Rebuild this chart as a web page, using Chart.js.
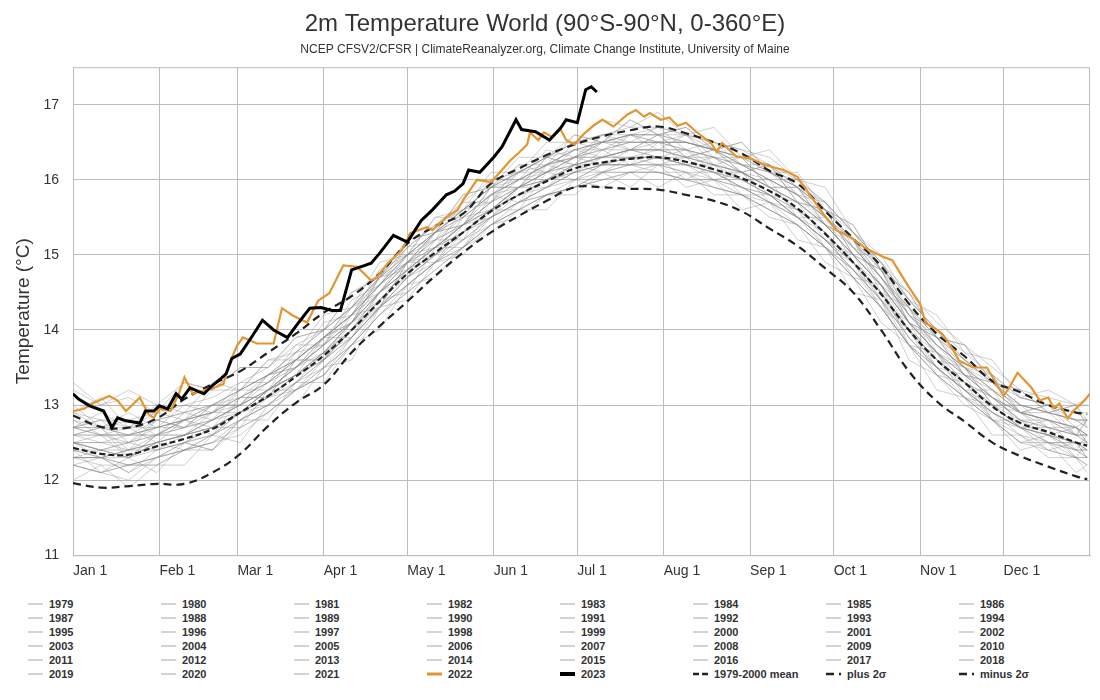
<!DOCTYPE html>
<html>
<head>
<meta charset="utf-8">
<script src="https://cdn.jsdelivr.net/npm/chart.js@4.4.1/dist/chart.umd.min.js"></script>
<style>
body{margin:0;background:#fff;font-family:"Liberation Sans",Arial,sans-serif;}
#wrap{position:relative;width:1100px;height:700px;}
#chartBox{position:absolute;left:0;top:0;width:1100px;height:592px;}
#legend{position:absolute;left:28px;top:597px;display:grid;grid-template-columns:repeat(8,133px);grid-auto-rows:14px;}
.item{display:flex;align-items:center;font:bold 11px "Liberation Sans",Arial,sans-serif;color:#333;white-space:nowrap;}
.item svg{margin-right:6px;}
</style>
</head>
<body>
<div id="wrap">
<div id="chartBox"><canvas id="tempChart"></canvas></div>
<div id="legend"></div>
</div>
<script>

const monthDays=[0,31,59,90,120,151,181,212,243,273,304,334]
const monthLabels=["Jan 1","Feb 1","Mar 1","Apr 1","May 1","Jun 1","Jul 1","Aug 1","Sep 1","Oct 1","Nov 1","Dec 1"]
const yTicks=[11,12,13,14,15,16,17]

// 10-day grid used by the 1979-2021 years and the climatology lines
const gridDays=[0,10,20,30,40,50,60,70,80,90,100,110,120,130,140,150,160,170,180,190,200,210,220,230,240,250,260,270,280,290,300,310,320,330,340,350,360,364]

const meanTemps=[12.43,12.35,12.34,12.45,12.55,12.68,12.90,13.12,13.38,13.66,14.00,14.38,14.75,15.03,15.30,15.58,15.80,15.98,16.15,16.23,16.28,16.30,16.24,16.14,16.02,15.85,15.62,15.28,14.90,14.48,14.00,13.60,13.30,12.98,12.76,12.64,12.50,12.46]
const plusTemps=[12.86,12.71,12.70,12.82,13.08,13.28,13.45,13.70,13.95,14.23,14.45,14.75,15.15,15.38,15.55,15.95,16.15,16.33,16.47,16.58,16.66,16.71,16.62,16.50,16.35,16.12,15.95,15.58,15.22,14.85,14.35,13.95,13.65,13.32,13.17,13.00,12.90,12.88]
const minusTemps=[11.96,11.90,11.92,11.95,11.95,12.10,12.35,12.72,13.03,13.27,13.70,14.05,14.38,14.72,15.03,15.30,15.52,15.72,15.90,15.90,15.88,15.87,15.80,15.72,15.58,15.35,15.12,14.82,14.50,14.00,13.45,13.05,12.78,12.50,12.32,12.18,12.05,12.01]

const t1979=[12.3,12.3,12.1,12.3,12.5,12.4,12.8,13.1,13.2,13.4,13.9,14.3,14.6,14.9,15.1,15.5,15.7,15.8,15.9,16.1,16.2,16.1,16.0,16.0,15.9,15.7,15.4,15.1,14.8,14.3,13.8,13.5,13.2,12.8,12.5,12.6,12.3,12.3]
const t1980=[12.5,12.3,12.3,12.5,12.4,12.6,12.9,13.0,13.3,13.7,13.9,14.3,14.7,15.0,15.3,15.5,15.8,15.9,16.1,16.2,16.2,16.3,16.2,16.1,15.9,15.8,15.5,15.2,14.9,14.4,14.0,13.5,13.2,13.0,12.7,12.5,12.5,12.4]
const t1981=[12.3,12.3,12.1,12.4,12.5,12.7,12.7,13.2,13.2,13.6,13.9,14.4,14.5,15.1,15.1,15.6,15.6,16.1,16.0,16.2,16.2,16.3,16.0,16.2,15.8,15.8,15.5,15.3,14.7,14.6,13.8,13.7,13.1,13.0,12.7,12.7,12.3,12.5]
const t1982=[12.2,12.1,12.2,12.2,12.4,12.5,12.6,12.9,13.2,13.4,13.8,14.2,14.5,14.8,15.1,15.4,15.6,15.8,15.9,16.0,16.1,16.1,16.0,15.9,15.8,15.6,15.4,15.1,14.7,14.3,13.8,13.4,13.1,12.8,12.6,12.4,12.3,12.2]
const t1983=[12.8,12.6,12.7,12.5,12.8,12.7,13.1,13.1,13.6,13.6,14.1,14.3,14.9,14.9,15.4,15.5,15.9,15.9,16.2,16.1,16.3,16.2,16.3,16.0,16.1,15.7,15.6,15.1,14.9,14.3,14.0,13.4,13.3,12.8,12.7,12.4,12.5,12.3]
const t1984=[12.2,12.1,12.0,12.3,12.4,12.5,12.7,12.9,13.2,13.4,13.8,14.2,14.6,14.9,15.1,15.4,15.6,15.8,15.9,16.1,16.1,16.1,16.0,15.9,15.8,15.6,15.4,15.1,14.7,14.3,13.8,13.4,13.1,12.8,12.5,12.5,12.3,12.2]
const t1985=[12.0,12.2,11.9,12.2,12.2,12.6,12.5,13.0,13.0,13.5,13.6,14.3,14.4,14.9,15.0,15.4,15.5,15.8,15.8,16.1,15.9,16.2,15.9,16.0,15.6,15.7,15.2,15.1,14.5,14.4,13.6,13.4,13.0,12.8,12.4,12.5,12.1,12.2]
const t1986=[12.3,12.2,12.2,12.3,12.4,12.5,12.8,13.0,13.2,13.5,13.8,14.3,14.6,14.9,15.2,15.4,15.7,15.8,16.0,16.1,16.1,16.2,16.1,16.0,15.8,15.7,15.5,15.1,14.8,14.4,13.8,13.5,13.1,12.9,12.6,12.5,12.4,12.3]
const t1987=[12.3,12.4,12.5,12.4,12.6,12.8,12.9,13.2,13.4,13.7,14.0,14.5,14.8,15.1,15.4,15.6,15.9,16.0,16.2,16.3,16.4,16.3,16.3,16.2,16.1,15.9,15.7,15.4,15.0,14.6,14.1,13.7,13.4,13.1,12.8,12.8,12.6,12.6]
const t1988=[12.6,12.7,12.3,12.6,12.8,12.6,13.1,13.1,13.6,13.6,14.2,14.3,14.9,15.0,15.5,15.6,15.9,16.0,16.3,16.2,16.4,16.3,16.4,16.1,16.1,15.8,15.7,15.2,15.0,14.4,14.1,13.5,13.4,12.8,12.8,12.5,12.5,12.3]
const t1989=[12.2,12.3,12.2,12.3,12.5,12.6,12.8,13.0,13.3,13.6,13.9,14.3,14.6,14.9,15.3,15.5,15.7,15.9,16.0,16.2,16.2,16.2,16.1,16.1,15.9,15.7,15.5,15.2,14.8,14.4,13.9,13.5,13.2,12.9,12.7,12.5,12.4,12.3]
const t1990=[12.5,12.4,12.5,12.6,12.6,12.8,13.0,13.2,13.5,13.7,14.1,14.4,14.8,15.1,15.3,15.6,15.9,16.0,16.2,16.3,16.3,16.4,16.3,16.2,16.1,15.9,15.7,15.4,15.0,14.6,14.1,13.7,13.3,13.1,12.8,12.7,12.6,12.5]
const t1991=[12.5,12.4,12.3,12.5,12.6,12.7,12.9,13.2,13.4,13.6,14.0,14.5,14.8,15.1,15.3,15.6,15.8,16.0,16.1,16.2,16.3,16.3,16.2,16.1,16.0,15.8,15.5,15.2,14.9,14.5,14.0,13.6,13.2,12.9,12.7,12.6,12.4,12.4]
const t1992=[12.4,12.1,12.3,12.1,12.5,12.4,12.8,12.8,13.3,13.3,13.8,14.0,14.6,14.7,15.1,15.3,15.6,15.6,16.0,15.9,16.1,15.9,16.1,15.8,15.8,15.5,15.4,14.9,14.7,14.1,13.8,13.2,13.1,12.6,12.6,12.3,12.3,12.1]
const t1993=[12.2,12.1,12.2,12.2,12.4,12.4,12.7,12.9,13.2,13.5,13.8,14.2,14.5,14.8,15.1,15.4,15.6,15.8,15.9,16.0,16.1,16.1,16.1,15.9,15.8,15.6,15.4,15.1,14.7,14.3,13.8,13.4,13.1,12.8,12.5,12.4,12.3,12.3]
const t1994=[12.3,12.3,12.2,12.3,12.4,12.6,12.8,13.0,13.3,13.5,13.9,14.3,14.7,14.9,15.2,15.5,15.7,15.9,16.1,16.1,16.2,16.2,16.2,16.0,15.9,15.7,15.5,15.2,14.8,14.4,13.9,13.5,13.2,12.9,12.7,12.6,12.4,12.4]
const t1995=[12.5,12.6,12.3,12.6,12.6,12.9,12.9,13.2,13.4,13.9,13.9,14.5,14.7,15.2,15.2,15.8,15.7,16.2,16.1,16.4,16.2,16.5,16.2,16.3,16.0,16.0,15.5,15.5,14.9,14.6,14.0,13.7,13.2,13.2,12.7,12.8,12.4,12.6]
const t1996=[12.3,12.3,12.4,12.4,12.5,12.6,12.9,13.1,13.3,13.6,14.0,14.3,14.7,15.0,15.2,15.5,15.7,15.9,16.1,16.2,16.2,16.2,16.2,16.1,15.9,15.8,15.5,15.2,14.8,14.5,13.9,13.5,13.2,12.9,12.7,12.6,12.5,12.4]
const t1997=[12.4,12.3,12.4,12.5,12.6,12.7,12.9,13.2,13.4,13.7,14.1,14.5,14.8,15.1,15.4,15.6,15.9,16.1,16.2,16.3,16.4,16.4,16.4,16.3,16.2,16.0,15.8,15.5,15.1,14.7,14.2,13.8,13.5,13.2,12.9,12.8,12.7,12.6]
const t1998=[12.9,12.7,12.9,12.7,13.0,12.9,13.3,13.3,13.8,13.8,14.4,14.6,15.1,15.2,15.7,15.7,16.2,16.1,16.5,16.4,16.6,16.5,16.6,16.3,16.3,15.9,15.9,15.4,15.2,14.5,14.3,13.6,13.5,13.0,12.9,12.6,12.7,12.5]
const t1999=[12.5,12.4,12.3,12.4,12.5,12.7,12.9,13.1,13.4,13.6,14.0,14.4,14.7,15.0,15.3,15.6,15.8,16.0,16.1,16.3,16.3,16.3,16.2,16.1,16.0,15.8,15.6,15.3,14.9,14.5,14.0,13.6,13.3,13.0,12.7,12.6,12.5,12.4]
const t2000=[12.4,12.3,12.4,12.5,12.6,12.7,12.9,13.1,13.4,13.7,14.0,14.4,14.8,15.0,15.3,15.6,15.8,16.0,16.2,16.2,16.3,16.3,16.2,16.2,16.0,15.8,15.6,15.3,14.9,14.5,14.0,13.6,13.3,13.0,12.8,12.6,12.5,12.5]
const t2001=[12.5,12.5,12.5,12.6,12.7,12.8,13.0,13.2,13.5,13.8,14.1,14.5,14.9,15.1,15.4,15.7,15.9,16.1,16.3,16.3,16.4,16.4,16.4,16.2,16.1,15.9,15.7,15.4,15.0,14.6,14.1,13.7,13.4,13.1,12.9,12.8,12.6,12.6]
const t2002=[12.7,12.8,12.5,12.8,12.7,13.0,13.0,13.4,13.5,13.9,14.1,14.7,14.9,15.3,15.4,15.9,15.9,16.3,16.2,16.5,16.4,16.6,16.3,16.4,16.1,16.2,15.7,15.6,15.0,14.8,14.1,13.9,13.4,13.3,12.9,13.0,12.6,12.8]
const t2003=[12.7,12.6,12.6,12.6,12.8,12.9,13.1,13.3,13.6,13.9,14.2,14.6,14.9,15.3,15.5,15.8,16.0,16.2,16.3,16.5,16.5,16.5,16.5,16.4,16.2,16.0,15.8,15.5,15.1,14.7,14.2,13.8,13.5,13.2,12.9,12.8,12.7,12.6]
const t2004=[12.6,12.6,12.5,12.7,12.7,12.9,13.0,13.3,13.5,13.8,14.2,14.5,14.9,15.2,15.4,15.7,16.0,16.1,16.3,16.4,16.4,16.5,16.4,16.3,16.1,16.0,15.8,15.4,15.1,14.7,14.1,13.8,13.4,13.2,12.9,12.8,12.7,12.6]
const t2005=[12.7,12.7,12.6,12.7,12.8,12.9,13.2,13.4,13.6,13.9,14.3,14.6,15.0,15.3,15.6,15.8,16.1,16.2,16.4,16.5,16.6,16.5,16.5,16.4,16.3,16.1,15.9,15.6,15.2,14.8,14.2,13.9,13.6,13.3,13.0,12.9,12.8,12.7]
const t2006=[12.6,12.6,12.6,12.7,12.8,12.9,13.1,13.3,13.6,13.9,14.2,14.6,15.0,15.2,15.5,15.8,16.0,16.2,16.3,16.5,16.5,16.5,16.5,16.4,16.2,16.1,15.8,15.5,15.2,14.7,14.3,13.8,13.5,13.2,13.0,12.9,12.8,12.7]
const t2007=[13.0,12.7,12.8,12.6,12.9,12.8,13.2,13.2,13.7,13.8,14.3,14.5,15.0,15.1,15.6,15.7,16.1,16.1,16.4,16.3,16.6,16.4,16.6,16.2,16.3,15.9,15.9,15.4,15.2,14.6,14.3,13.7,13.5,13.0,13.0,12.7,12.7,12.5]
const t2008=[12.4,12.4,12.3,12.5,12.6,12.7,12.9,13.2,13.4,13.7,14.1,14.5,14.8,15.1,15.4,15.6,15.9,16.1,16.2,16.3,16.4,16.4,16.3,16.2,16.1,15.9,15.6,15.4,15.0,14.6,14.1,13.7,13.3,13.1,12.8,12.7,12.6,12.5]
const t2009=[12.6,12.5,12.6,12.6,12.8,12.9,13.1,13.3,13.6,13.9,14.2,14.6,14.9,15.3,15.5,15.8,16.0,16.2,16.4,16.4,16.5,16.5,16.5,16.4,16.2,16.1,15.9,15.5,15.2,14.7,14.3,13.9,13.5,13.3,13.0,12.9,12.8,12.8]
const t2010=[12.7,12.9,12.7,12.9,12.8,13.2,13.2,13.6,13.6,14.1,14.2,14.8,15.0,15.5,15.5,16.0,16.0,16.4,16.3,16.6,16.5,16.7,16.4,16.5,16.2,16.2,15.8,15.7,15.1,14.9,14.2,14.0,13.5,13.4,12.9,13.0,12.7,12.8]
const t2011=[12.5,12.4,12.4,12.5,12.6,12.8,13.0,13.2,13.5,13.8,14.1,14.5,14.9,15.1,15.4,15.7,15.9,16.1,16.3,16.3,16.4,16.4,16.3,16.3,16.1,15.9,15.7,15.4,15.0,14.6,14.1,13.7,13.4,13.1,12.9,12.7,12.6,12.6]
const t2012=[12.5,12.5,12.4,12.6,12.7,12.8,13.0,13.2,13.5,13.8,14.1,14.6,14.9,15.2,15.4,15.8,15.9,16.2,16.3,16.4,16.5,16.5,16.4,16.3,16.2,16.0,15.8,15.5,15.1,14.7,14.2,13.8,13.5,13.1,12.9,12.8,12.7,12.6]
const t2013=[12.6,12.7,12.4,12.8,12.7,13.0,13.0,13.4,13.5,13.9,14.1,14.7,14.8,15.3,15.4,15.9,15.9,16.3,16.2,16.6,16.4,16.6,16.3,16.4,16.1,16.2,15.7,15.6,15.0,14.8,14.1,13.9,13.4,13.3,12.9,12.9,12.6,12.8]
const t2014=[12.7,12.6,12.6,12.7,12.8,13.0,13.1,13.4,13.6,13.9,14.2,14.7,15.0,15.3,15.6,15.9,16.0,16.2,16.4,16.5,16.6,16.6,16.5,16.4,16.3,16.1,15.9,15.6,15.2,14.8,14.3,13.9,13.6,13.3,13.0,12.9,12.8,12.8]
const t2015=[12.7,12.7,12.6,12.8,12.9,13.0,13.2,13.4,13.7,14.0,14.3,14.7,15.1,15.4,15.6,15.9,16.1,16.3,16.5,16.6,16.6,16.7,16.6,16.5,16.4,16.3,16.0,15.7,15.3,14.9,14.5,14.1,13.8,13.5,13.2,13.1,13.0,13.0]
const t2016=[13.3,13.0,13.2,13.0,13.3,13.2,13.5,13.5,13.9,14.0,14.5,14.7,15.2,15.3,15.8,15.9,16.3,16.3,16.6,16.5,16.8,16.6,16.7,16.4,16.5,16.1,16.1,15.6,15.4,14.8,14.5,13.9,13.8,13.3,13.2,12.9,13.0,12.8]
const t2017=[12.9,12.8,12.8,12.9,13.0,13.1,13.3,13.5,13.8,14.0,14.3,14.7,15.1,15.4,15.7,16.0,16.1,16.3,16.5,16.6,16.7,16.7,16.6,16.5,16.4,16.2,16.0,15.7,15.3,14.9,14.4,14.0,13.7,13.4,13.1,13.0,12.9,12.8]
const t2018=[12.8,12.7,12.7,12.7,12.8,13.0,13.2,13.4,13.7,14.0,14.3,14.7,15.0,15.3,15.6,15.9,16.1,16.3,16.4,16.5,16.6,16.6,16.5,16.4,16.3,16.2,15.9,15.7,15.3,14.9,14.4,14.0,13.6,13.4,13.1,13.0,12.9,12.9]
const t2019=[12.9,13.1,12.7,13.0,12.9,13.3,13.2,13.6,13.7,14.2,14.3,14.9,15.0,15.5,15.6,16.1,16.1,16.5,16.5,16.8,16.7,16.9,16.6,16.7,16.3,16.4,16.0,15.9,15.3,15.0,14.4,14.2,13.7,13.6,13.1,13.2,13.0,13.1]
const t2020=[13.2,13.0,13.1,12.9,13.3,13.2,13.5,13.5,13.9,14.0,14.5,14.7,15.2,15.3,15.8,15.9,16.2,16.2,16.6,16.5,16.8,16.6,16.7,16.4,16.5,16.1,16.0,15.6,15.4,14.8,14.5,13.9,13.8,13.3,13.2,12.9,13.0,12.7]
const t2021=[12.7,12.8,12.7,12.8,12.9,13.0,13.2,13.4,13.6,13.9,14.2,14.6,15.0,15.3,15.6,15.9,16.1,16.3,16.5,16.5,16.6,16.6,16.6,16.4,16.3,16.2,15.9,15.6,15.3,14.8,14.4,14.0,13.6,13.3,13.1,13.0,12.8,12.8]

const grayYears=[1979,1980,1981,1982,1983,1984,1985,1986,1987,1988,1989,1990,1991,1992,1993,1994,1995,1996,1997,1998,1999,2000,2001,2002,2003,2004,2005,2006,2007,2008,2009,2010,2011,2012,2013,2014,2015,2016,2017,2018,2019,2020,2021]
const grayTemps=[t1979,t1980,t1981,t1982,t1983,t1984,t1985,t1986,t1987,t1988,t1989,t1990,t1991,t1992,t1993,t1994,t1995,t1996,t1997,t1998,t1999,t2000,t2001,t2002,t2003,t2004,t2005,t2006,t2007,t2008,t2009,t2010,t2011,t2012,t2013,t2014,t2015,t2016,t2017,t2018,t2019,t2020,t2021]

const days2022=[0,4,7,13,16,19,24,27,29,31,35,38,40,43,47,50,54,56,59,61,66,72,75,79,84,88,92,97,102,107,109,113,118,121,127,129,134,138,140,145,150,153,157,160,163,164,167,169,172,175,177,180,183,187,190,194,199,202,205,207,211,214,217,220,224,229,231,233,238,243,248,251,255,260,265,269,274,279,284,291,294,300,304,306,309,312,316,318,323,328,334,336,339,344,347,350,352,354,357,359,363,365]
const temp2022=[12.92,12.95,13.02,13.12,13.06,12.92,13.10,12.88,12.83,12.95,12.92,13.15,13.37,13.15,13.19,13.22,13.28,13.55,13.80,13.90,13.82,13.82,14.29,14.19,14.10,14.39,14.49,14.86,14.84,14.66,14.70,14.89,15.06,15.29,15.37,15.33,15.50,15.60,15.73,16.00,15.97,16.09,16.26,16.36,16.47,16.63,16.53,16.63,16.57,16.67,16.53,16.47,16.60,16.73,16.80,16.71,16.87,16.93,16.84,16.89,16.80,16.83,16.72,16.76,16.63,16.49,16.37,16.49,16.31,16.29,16.20,16.17,16.13,16.04,15.77,15.56,15.33,15.24,15.10,14.97,14.93,14.57,14.35,14.09,14.03,13.95,13.73,13.59,13.50,13.50,13.12,13.23,13.43,13.23,13.06,13.10,12.96,13.02,12.82,12.92,13.06,13.15]

const days2023=[0,2,6,11,14,16,19,24,26,29,31,34,37,39,42,47,50,53,55,57,60,64,68,72,77,81,85,89,93,96,100,104,107,110,115,120,125,129,134,137,140,142,146,151,154,159,161,166,171,175,177,181,184,186,188]
const temp2023=[13.15,13.08,12.99,12.92,12.70,12.83,12.79,12.76,12.92,12.92,12.99,12.95,13.15,13.08,13.23,13.15,13.26,13.35,13.42,13.62,13.68,13.90,14.13,14.00,13.90,14.10,14.29,14.30,14.26,14.26,14.80,14.85,14.89,15.02,15.26,15.17,15.46,15.60,15.80,15.85,15.95,16.13,16.10,16.30,16.44,16.80,16.67,16.64,16.53,16.69,16.80,16.76,17.20,17.24,17.17]


function pairs(days,temps){
return days.map((d,i)=>({x:d,y:temps[i]}))
}

let datasets=[]

grayYears.forEach((yr,i)=>{
datasets.push({
label:String(yr),
data:pairs(gridDays,grayTemps[i]),
borderColor:"rgba(135,135,135,0.5)",
borderWidth:0.8,
order:3,
legendColor:"#d4d4d4",
legendWidth:2
})
})

datasets.push({
label:"2022",
data:pairs(days2022,temp2022),
borderColor:"#e3952f",
borderWidth:2.2,
order:1,
legendColor:"#e3952f",
legendWidth:3
})

datasets.push({
label:"2023",
data:pairs(days2023,temp2023),
borderColor:"#000",
borderWidth:3,
order:0,
legendColor:"#000",
legendWidth:4
})

datasets.push({
label:"1979-2000 mean",
data:pairs(gridDays,meanTemps),
borderColor:"#222",
borderWidth:2.2,
borderDash:[6,3],
tension:0.4,
order:2,
legendColor:"#222",
legendWidth:2.5
})

datasets.push({
label:"plus 2σ",
data:pairs(gridDays,plusTemps),
borderColor:"#222",
borderWidth:2.2,
borderDash:[8,5],
tension:0.4,
order:2,
legendColor:"#222",
legendWidth:2.5
})

datasets.push({
label:"minus 2σ",
data:pairs(gridDays,minusTemps),
borderColor:"#222",
borderWidth:2.2,
borderDash:[8,5],
tension:0.4,
order:2,
legendColor:"#222",
legendWidth:2.5
})


const frame={
id:"frame",
beforeDatasetsDraw(chart){
const a=chart.chartArea
const ctx=chart.ctx
ctx.save()
ctx.strokeStyle="#bdbdbd"
ctx.lineWidth=1
ctx.strokeRect(a.left+0.5,a.top+0.5,a.right-a.left-1,a.bottom-a.top)
ctx.restore()
}
}

const chart=new Chart(document.getElementById("tempChart"),{
type:"line",
data:{datasets:datasets},
plugins:[frame],
options:{
responsive:true,
maintainAspectRatio:false,
animation:false,
layout:{padding:{left:0,right:10,top:0,bottom:4}},
elements:{point:{radius:0},line:{borderCapStyle:"butt"}},
plugins:{
legend:{display:false},
tooltip:{enabled:false},
title:{
display:true,
text:"2m Temperature World (90°S-90°N, 0-360°E)",
color:"#333",
font:{family:"Liberation Sans",size:24,weight:"normal"},
padding:{top:10,bottom:4}
},
subtitle:{
display:true,
text:"NCEP CFSV2/CFSR | ClimateReanalyzer.org, Climate Change Institute, University of Maine",
color:"#333",
font:{family:"Liberation Sans",size:12},
padding:{top:0,bottom:10}
}
},
scales:{
x:{
type:"linear",
min:0,
max:365,
afterBuildTicks:s=>{s.ticks=monthDays.map(v=>({value:v}))},
ticks:{
callback:(v,i)=>monthLabels[i],
align:"start",
autoSkip:false,
maxRotation:0,
padding:8,
color:"#333",
font:{family:"Liberation Sans",size:14}
},
grid:{color:"#bdbdbd",drawTicks:false},
border:{color:"#bdbdbd"}
},
y:{
min:11,
max:17.5,
afterBuildTicks:s=>{s.ticks=yTicks.map(v=>({value:v}))},
afterFit:s=>{s.width=73},
ticks:{
padding:14,
color:"#333",
font:{family:"Liberation Sans",size:14}
},
grid:{color:"#bdbdbd",drawTicks:false},
border:{color:"#bdbdbd"},
title:{
display:true,
text:"Temperature (°C)",
color:"#333",
font:{family:"Liberation Sans",size:19},
padding:{top:12,bottom:0}
}
}
}
}
})


function buildLegend(){
let box=document.getElementById("legend")
box.innerHTML=""
chart.data.datasets.forEach(ds=>{
let dash=ds.borderDash ? ds.borderDash.join(",") : "none"
let item=document.createElement("div")
item.className="item"
item.innerHTML=`<svg width="15" height="6"><line x1="0" y1="3" x2="15" y2="3" stroke="${ds.legendColor}" stroke-width="${ds.legendWidth}" stroke-dasharray="${dash}"/></svg>${ds.label}`
box.appendChild(item)
})
}

buildLegend()

</script>
</body>
</html>
